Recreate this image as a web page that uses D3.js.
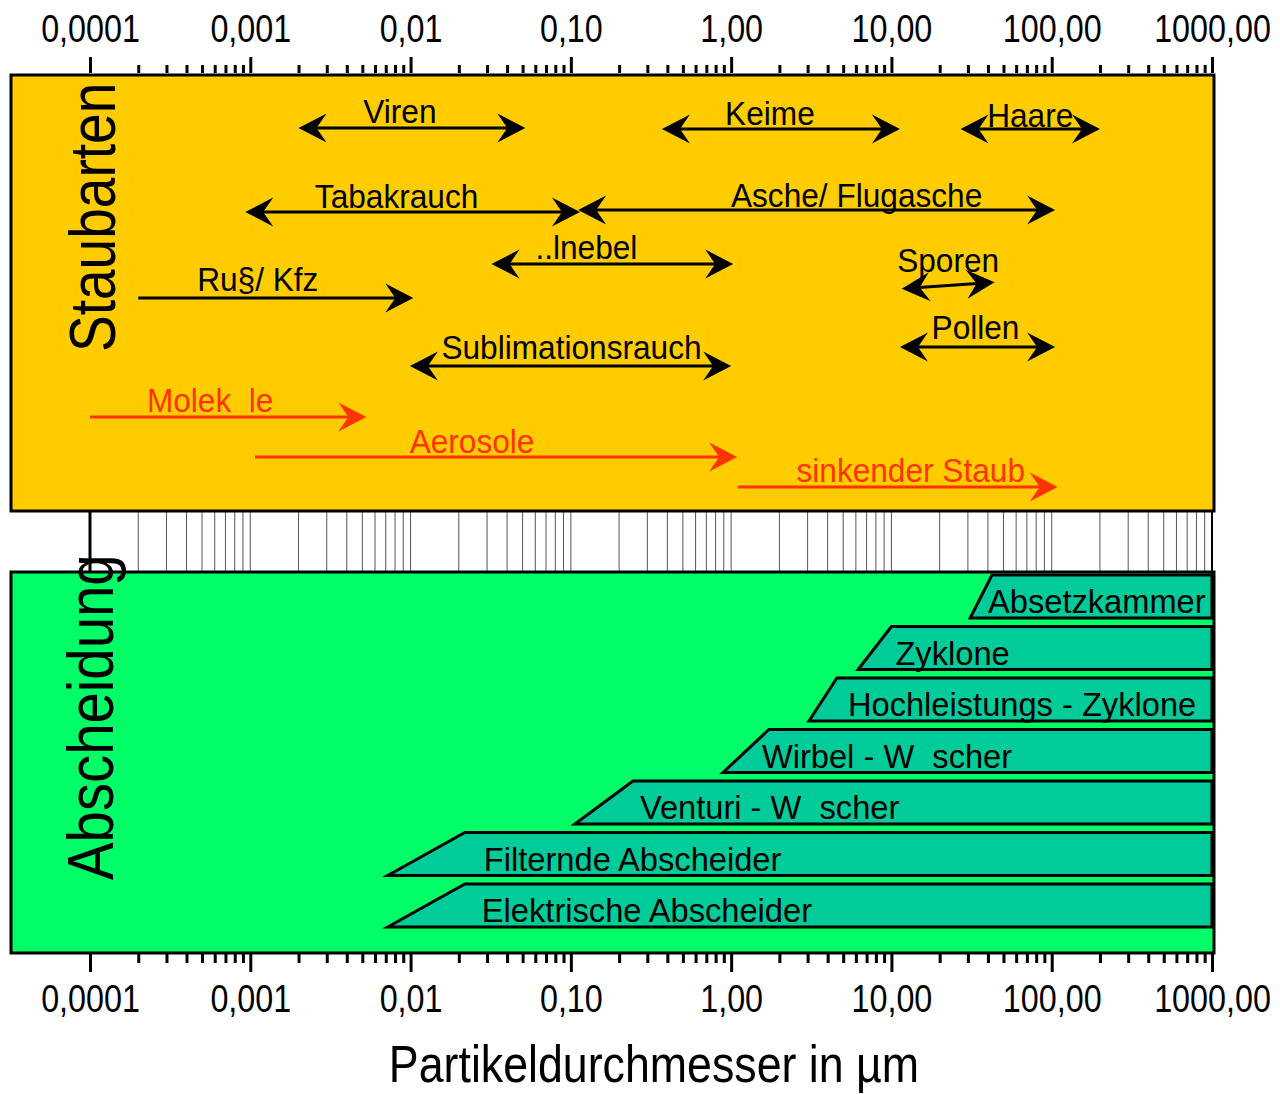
<!DOCTYPE html>
<html lang="de">
<head>
<meta charset="UTF-8">
<script src="https://d3js.org/d3.v7.min.js"></script>
<style>
  body { margin: 0; background: #fff; }
  svg { display: block; font-family: "Liberation Sans", Arial, sans-serif; }
  text { white-space: pre; }
</style>
</head>
<body>
<div id="chart"></div>
<script>
// Achse: Partikeldurchmesser in µm
const majorTicks = [0.0001, 0.001, 0.01, 0.1, 1, 10, 100, 1000];
const tickLabels = ["0,0001", "0,001", "0,01", "0,10", "1,00", "10,00", "100,00", "1000,00"];

// Staubarten (schwarze Pfeile)
const staubNames = ["Viren", "Keime", "Haare", "Tabakrauch", "Asche/ Flugasche", "..lnebel", "Ru§/ Kfz", "Sporen", "Pollen", "Sublimationsrauch"];
const staubFrom  = [0.002, 0.37, 27, 0.00093, 0.111, 0.032, 0.0002, 11.6, 11.3, 0.0099];
const staubTo    = [0.052, 11.3, 200, 0.114, 105, 1.03, 0.0104, 44, 105, 1.0];
const staubBoth  = [true, true, true, true, true, true, false, true, true, true];

// Größenklassen (rote Pfeile)
const klasseNames = ["Molek  le", "Aerosole", "sinkender Staub"];
const klasseFrom  = [0.0001, 0.00107, 1.1];
const klasseTo    = [0.0053, 1.09, 109];

// Abscheider: Beginn Schräge (unten) und voller Bereich (oben), bis 1000 µm
const abschNames = ["Absetzkammer", "Zyklone", "Hochleistungs - Zyklone", "Wirbel - W  scher", "Venturi - W  scher", "Filternde Abscheider", "Elektrische Abscheider"];
const abschLow   = [31, 6.2, 3.06, 0.89, 0.106, 0.0072, 0.0072];
const abschFull  = [42.4, 10, 4.57, 1.72, 0.244, 0.0218, 0.0218];
const abschMax   = 1000;

// Layout (Pixel)
const W = 1280, H = 1094;
const topBox = { y0: 75, y1: 511 };
const botBox = { y0: 572, y1: 953 };
const boxLeft = 11, boxRight = 1214;
const staubYL = [128, 129, 129, 212, 210, 264, 298, 288, 347, 366];
const staubYR = [128, 129, 129, 212, 210, 264, 298, 283, 347, 366];
const staubDx = [-12, -11, 0, -16, 40, -26, -18, 0, -2, 1];
const staubDy = [-5, -4, -2, -4, -3, -5, -7, -11, -8, -7];
const klasseY  = [417, 457, 487];
const klasseDx = [-18, -24, 13];
const klasseDy = [-5, -4, -5];
const abschDx  = [-4, 4, 11, -7, 7, 19, 17];

const FONT_K = 0.93;

const x = d3.scaleLog().domain([0.0001, 1000]).range([90, 1212]);
const allTicks = x.ticks();
const minorTicks = allTicks.filter(t => !majorTicks.some(m => Math.abs(m - t) / m < 1e-6));

const svg = d3.select("#chart").append("svg")
  .attr("width", W).attr("height", H);

function squeeze(sel, k) {
  sel.each(function() {
    const w = this.getComputedTextLength();
    d3.select(this).attr("textLength", w * k).attr("lengthAdjust", "spacingAndGlyphs");
  });
}

// Pfeilspitzen
const defs = svg.append("defs");
[["head-black", "#000"], ["head-red", "#ff3300"]].forEach(([id, col]) => {
  defs.append("marker")
    .attr("id", id)
    .attr("viewBox", "-40 -16 42 32")
    .attr("markerWidth", 42).attr("markerHeight", 32)
    .attr("markerUnits", "userSpaceOnUse")
    .attr("refX", -10).attr("refY", 0)
    .attr("orient", "auto-start-reverse")
    .append("path")
    .attr("d", "M0,0 L-28,-14.5 L-18,0 L-28,14.5 Z")
    .attr("fill", col);
});

// Hilfslinien zwischen den Feldern
svg.append("g").selectAll("line")
  .data(allTicks)
  .join("line")
  .attr("x1", d => x(d)).attr("x2", d => x(d))
  .attr("y1", topBox.y1).attr("y2", botBox.y0)
  .attr("stroke", d => d === 0.0001 ? "#000" : "#555")
  .attr("stroke-width", d => d === 0.0001 ? 3 : 1);
svg.append("line")
  .attr("x1", x(1000)).attr("x2", x(1000))
  .attr("y1", topBox.y1).attr("y2", botBox.y0)
  .attr("stroke", "#000").attr("stroke-width", 2);

// Felder
svg.append("rect")
  .attr("x", boxLeft).attr("y", topBox.y0)
  .attr("width", boxRight - boxLeft).attr("height", topBox.y1 - topBox.y0)
  .attr("fill", "#ffcc00").attr("stroke", "#000").attr("stroke-width", 3);
svg.append("rect")
  .attr("x", boxLeft).attr("y", botBox.y0)
  .attr("width", boxRight - boxLeft).attr("height", botBox.y1 - botBox.y0)
  .attr("fill", "#00ff66").attr("stroke", "#000").attr("stroke-width", 3);

// Achsen oben und unten
function drawAxis(axisFn, y, size, pad, labels) {
  const ax = axisFn(x)
    .tickValues(labels ? majorTicks : minorTicks)
    .tickSize(size)
    .tickPadding(pad)
    .tickFormat(labels ? ((d, i) => tickLabels[i]) : "");
  const g = svg.append("g").attr("transform", `translate(0,${y})`).call(ax);
  g.select(".domain").remove();
  g.selectAll(".tick line").attr("stroke", "#000").attr("stroke-width", 3);
  g.selectAll(".tick text")
    .attr("fill", "#000")
    .style("font-size", "38px")
    .attr("transform", "scale(0.85,1)");
}
drawAxis(d3.axisTop, 73, 8, 0, false);
drawAxis(d3.axisTop, 73, 16, 15, true);
drawAxis(d3.axisBottom, 954, 9, 0, false);
drawAxis(d3.axisBottom, 954, 18, 13, true);

// Abscheider-Balken
const yb = d3.scaleBand().domain(abschNames).range([575, 927]).paddingInner(0.165).paddingOuter(0);
const gA = svg.append("g");
abschNames.forEach((name, i) => {
  const t = yb(name), b = t + yb.bandwidth();
  gA.append("path")
    .attr("d", `M${x(abschLow[i])},${b} L${x(abschFull[i])},${t} L${x(abschMax)},${t} L${x(abschMax)},${b} Z`)
    .attr("fill", "#00cc99")
    .attr("stroke", "#000")
    .attr("stroke-width", 3)
    .attr("stroke-linejoin", "miter");
  gA.append("text")
    .attr("x", x(abschFull[i]) + abschDx[i])
    .attr("y", b - 5)
    .style("font-size", "34px")
    .attr("fill", "#000")
    .text(name)
    .call(squeeze, 0.96);
});

// Pfeile Staubarten
function arrow(g, from, to, yl, yr, both, col, marker) {
  g.append("line")
    .attr("x1", x(from)).attr("x2", x(to))
    .attr("y1", yl).attr("y2", yr)
    .attr("stroke", col).attr("stroke-width", 3)
    .attr("marker-end", `url(#${marker})`)
    .attr("marker-start", both ? `url(#${marker})` : null);
}
function shrink(px) { return v => x.invert(x(v) + px); }

const gS = svg.append("g");
staubNames.forEach((name, i) => {
  const a = staubBoth[i] ? shrink(10)(staubFrom[i]) : staubFrom[i];
  const b = shrink(-10)(staubTo[i]);
  arrow(gS, a, b, staubYL[i], staubYR[i], staubBoth[i], "#000", "head-black");
  const mid = (x(staubFrom[i]) + x(staubTo[i])) / 2;
  gS.append("text")
    .attr("x", mid + staubDx[i])
    .attr("y", Math.min(staubYL[i], staubYR[i]) + staubDy[i])
    .attr("text-anchor", "middle")
    .style("font-size", "34px")
    .attr("fill", "#000")
    .text(name)
    .call(squeeze, FONT_K);
});

const gK = svg.append("g");
klasseNames.forEach((name, i) => {
  arrow(gK, klasseFrom[i], shrink(-10)(klasseTo[i]), klasseY[i], klasseY[i], false, "#ff3300", "head-red");
  const mid = (x(klasseFrom[i]) + x(klasseTo[i])) / 2;
  gK.append("text")
    .attr("x", mid + klasseDx[i])
    .attr("y", klasseY[i] + klasseDy[i])
    .attr("text-anchor", "middle")
    .style("font-size", "34px")
    .attr("fill", "#ff3300")
    .text(name)
    .call(squeeze, FONT_K);
});

// Titel
svg.append("text")
  .attr("transform", "translate(115,352) rotate(-90)")
  .style("font-size", "64px")
  .attr("fill", "#000")
  .text("Staubarten")
  .call(squeeze, 0.86);
svg.append("text")
  .attr("transform", "translate(113,880) rotate(-90)")
  .style("font-size", "64px")
  .attr("fill", "#000")
  .text("Abscheidung")
  .call(squeeze, 0.88);
svg.append("text")
  .attr("x", 654).attr("y", 1082)
  .attr("text-anchor", "middle")
  .style("font-size", "52px")
  .attr("fill", "#000")
  .text("Partikeldurchmesser in µm")
  .call(squeeze, 0.86);
</script>
</body>
</html>
